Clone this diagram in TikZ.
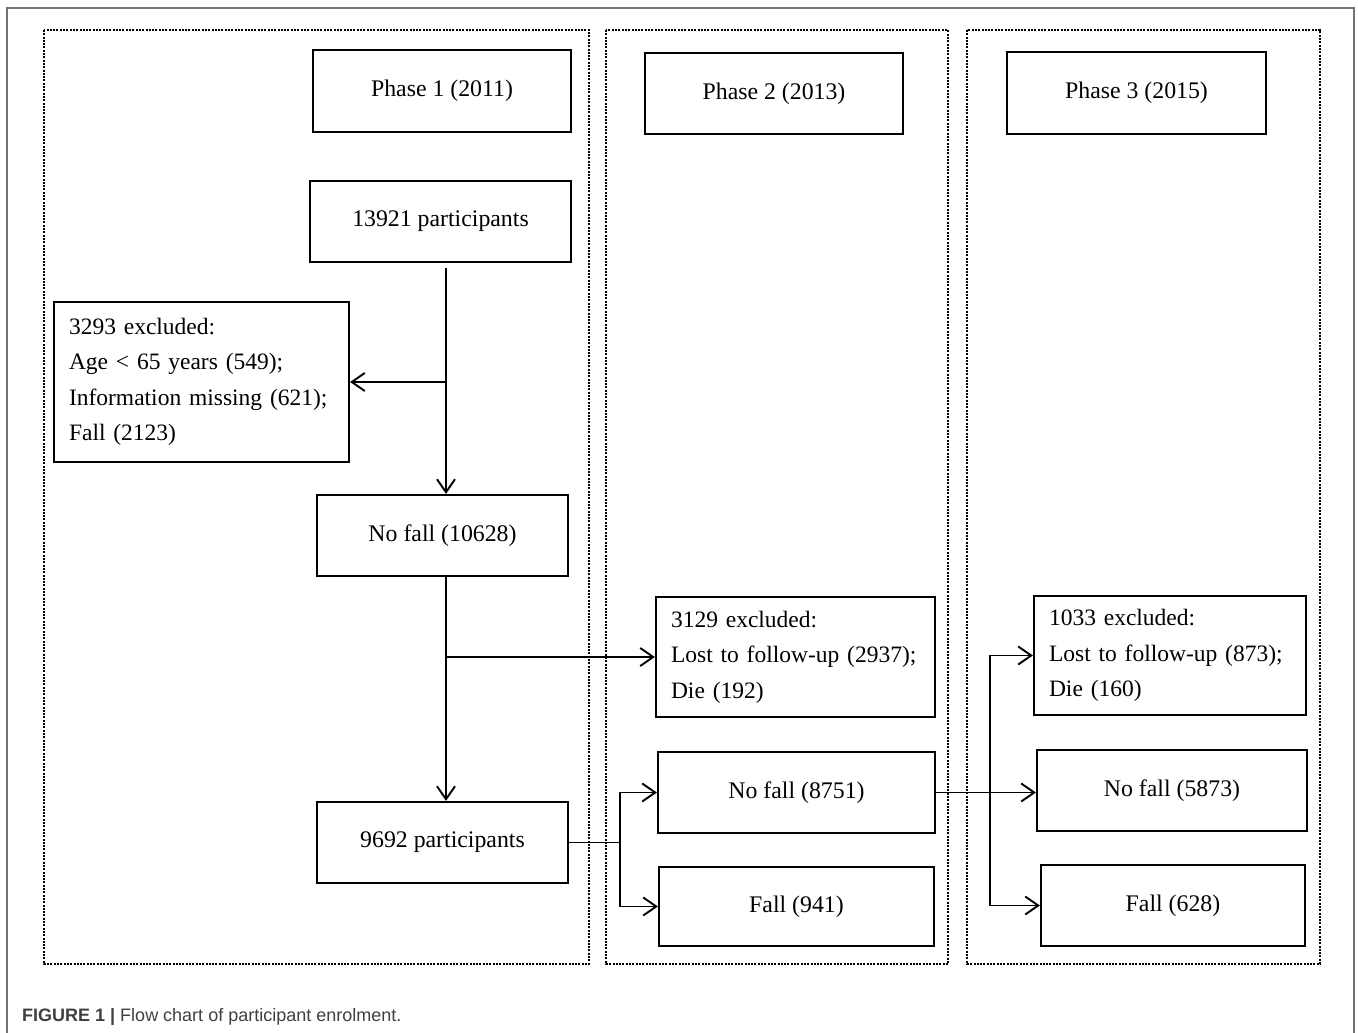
\documentclass[tikz,border=0pt]{standalone}
\usepackage{fontspec}
\setmainfont{Liberation Serif}
\setsansfont{Liberation Sans}
\usetikzlibrary{arrows.meta}

\begin{document}
\begin{tikzpicture}
      [   x=1pt,y=-1pt,
          box/.style={draw=black,line width=2.2pt,minimum width=#1,minimum height=81pt,inner sep=0pt,font=\fontsize{23.8}{30}\selectfont},
          exbox/.style={draw=black,line width=2.2pt,align=left,inner xsep=15pt,inner ysep=0pt,font=\fontsize{23.5}{35.5}\selectfont},
          phase/.style={draw=black,line width=2.4pt,dash pattern=on 2pt off 1.3pt},
          arr/.style={line width=1.9pt,-{Straight Barb[length=13pt,width=18pt,line width=1.9pt]}},
          link/.style={line width=1.9pt},
      ]
          \useasboundingbox (0,0) rectangle (1358,1033);
          \draw[black!55,line width=1.5pt] (7,1033) |- (1354,8) -- (1354,1033);
          % the three survey waves
          \foreach \l/\r in {44/589,606/948,967/1320}
          {   \draw[phase] (\l,30) rectangle (\r,964);
          }
          \node[box=258pt,minimum height=82pt] (p1) at (442,91) {Phase 1 (2011)};
          \node[box=258pt] (p2) at (774,93.5) {Phase 2 (2013)};
          \node[box=259pt,minimum height=82pt] (p3) at (1136.5,93) {Phase 3 (2015)};
          % phase 1
          \node[box=261pt] (start) at (440.5,221.5) {13921 participants};
          \node[exbox,text width=265pt,minimum height=160pt] (ex1) at (201.5,382)
              {3293 excluded:\\ Age < 65 years (549);\\ Information missing (621);\\ Fall (2123)};
          \node[box=251pt] (nofall1) at (442.5,535.5) {No fall (10628)};
          \node[box=251pt] (part2) at (442.5,842.5) {9692 participants};
          % phase 2
          \node[exbox,text width=249pt,minimum height=120pt] (ex2) at (795.5,657)
              {3129 excluded:\\ Lost to follow-up (2937);\\ Die (192)};
          \node[box=277pt] (nofall2) at (796.5,792.5) {No fall (8751)};
          \node[box=275pt,minimum height=79pt] (fall2) at (796.5,906.5) {Fall (941)};
          % phase 3
          \node[exbox,text width=242pt,minimum height=119pt] (ex3) at (1170,655.5)
              {1033 excluded:\\ Lost to follow-up (873);\\ Die (160)};
          \node[box=270pt] (nofall3) at (1172,790.5) {No fall (5873)};
          \node[box=264pt] (fall3) at (1173,905.5) {Fall (628)};
          \coordinate (s2) at (620,842.5);
          \coordinate (s3) at (990,792.5);
          \draw[arr] ([yshift=-5pt]start.south -| 446,0) -- (nofall1.north -| 446,0);
          \draw[arr] (ex1.east -| 446,0) -- (ex1.east);
          \draw[arr] (nofall1.south -| 446,0) -- (part2.north -| 446,0);
          \draw[arr] (ex2.west -| 446,0) -- (ex2.west);
          \draw[link] (part2.east) -- (s2);
          \draw[arr] (s2) |- (nofall2.west);
          \draw[arr] (s2) |- (fall2.west);
          \draw[arr] (nofall2.east) -- (nofall2.east -| nofall3.west);
          \draw[arr] (s3) |- (ex3.west);
          \draw[arr] (s3) |- (fall3.west);
          \node[anchor=base west,inner sep=0pt,text=black!75,font=\sffamily\fontsize{18}{22}\selectfont] (cap) at (22,1021)
              {\textbf{FIGURE 1 |} Flow chart of participant enrolment.};
    \end{tikzpicture}
\end{document}
